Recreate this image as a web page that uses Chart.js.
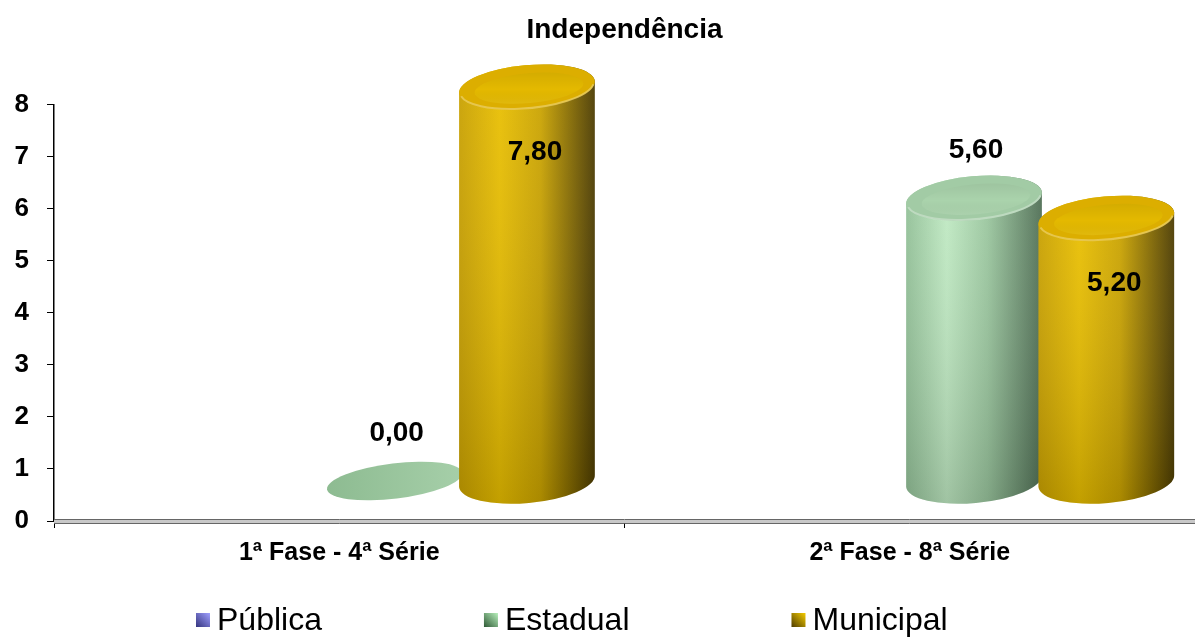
<!DOCTYPE html>
<html>
<head>
<meta charset="utf-8">
<script src="https://cdn.jsdelivr.net/npm/chart.js@4"></script>
<style>
    html, body { margin: 0; padding: 0; background: #fff; }
    #wrap { width: 1195px; height: 637px; }
</style>
</head>
<body>
<div id="wrap"><canvas id="barChart"></canvas></div>
<script>
const categories = ['1ª Fase - 4ª Série', '2ª Fase - 8ª Série'];
const seriesNames = ['Pública', 'Estadual', 'Municipal'];
const publica = [null, null];
const estadual = [0.00, 5.60];
const municipal = [7.80, 5.20];
const yTicks = [0, 1, 2, 3, 4, 5, 6, 7, 8];

const FONT = '"Liberation Sans", Arial, sans-serif';

// colour ramps for the cylinders: [left, highlight, mid, right edge]
const shades = {
    'Pública':   { body: ['#6a6ad0', '#9c9cff', '#7a7ae0', '#30307a'], top: '#8c8cf0', topIn: '#9898f8', key: ['#a0a0ff', '#34347e'] },
    'Estadual':  { body: ['#92c097', '#bfe9c2', '#9ac69e', '#4f6e54'], top: '#a2cba5', topIn: '#aad3ac', key: ['#b8f0bc', '#2f5a36'] },
    'Municipal': { body: ['#c8a000', '#e8be00', '#caa300', '#4a3a00'], top: '#dcae00', topIn: '#e4b900', key: ['#f5cc00', '#4e3c00'] }
};

const DEPTH_X = 51;       // back-plane shift of the columns
const DEPTH_SPREAD = 0.0155; // shift grows a little toward the right
const FLOOR_LIFT = 40;    // floor sits above the front axis line
const PERSP = 0.97;
const TILT = -0.09;

function fmt(v){
    return v.toFixed(2).replace('.', ',');
}

function drawCylinder(ctx, cx, baseY, topY, rx, ry, sh, flat){
    if(flat){
        const g = ctx.createLinearGradient(cx - rx, 0, cx + rx, 0);
        g.addColorStop(0, '#8dbb91');
        g.addColorStop(1, '#a6cfa9');
        ctx.beginPath();
        ctx.ellipse(cx, baseY, rx, ry * 0.8, TILT * 1.35, 0, Math.PI * 2);
        ctx.fillStyle = g;
        ctx.fill();
        return;
    }

    // side of the cylinder
    const g = ctx.createLinearGradient(cx - rx, 0, cx + rx, 0);
    g.addColorStop(0, sh.body[0]);
    g.addColorStop(0.3, sh.body[1]);
    g.addColorStop(0.6, sh.body[2]);
    g.addColorStop(1, sh.body[3]);

    ctx.beginPath();
    ctx.ellipse(cx, baseY, rx, ry, TILT, 0, Math.PI);
    ctx.ellipse(cx, topY, rx, ry, TILT, Math.PI, Math.PI * 2);
    ctx.closePath();
    ctx.fillStyle = g;
    ctx.fill();

    // darken toward the floor
    const v = ctx.createLinearGradient(0, topY, 0, baseY + ry);
    v.addColorStop(0, 'rgba(255,255,255,0.06)');
    v.addColorStop(1, 'rgba(0,0,0,0.16)');
    ctx.fillStyle = v;
    ctx.fill();

    // top cap
    ctx.beginPath();
    ctx.ellipse(cx, topY, rx, ry, TILT, 0, Math.PI * 2);
    ctx.fillStyle = sh.top;
    ctx.fill();

    const t = ctx.createLinearGradient(0, topY - ry, 0, topY + ry);
    t.addColorStop(0, 'rgba(0,0,0,0.10)');
    t.addColorStop(0.55, 'rgba(0,0,0,0)');
    t.addColorStop(1, 'rgba(255,255,255,0.10)');
    ctx.beginPath();
    ctx.ellipse(cx + 2, topY + 1, rx * 0.8, ry * 0.68, TILT, 0, Math.PI * 2);
    ctx.fillStyle = sh.topIn;
    ctx.fill();
    ctx.fillStyle = t;
    ctx.fill();

    // soft rim highlight on the front edge of the cap
    ctx.beginPath();
    ctx.ellipse(cx, topY, rx - 1, ry - 1, TILT, 0.15, Math.PI - 0.15);
    ctx.strokeStyle = 'rgba(255,255,255,0.3)';
    ctx.lineWidth = 2;
    ctx.stroke();
}

const cylinders = {
    id: 'cylinders',
    afterDatasetsDraw(chart){
        const ctx = chart.ctx;
        const y = chart.scales.y;
        const left = chart.chartArea.left;
        const zero = y.getPixelForValue(0);
        const baseY = zero - FLOOR_LIFT;

        ctx.save();
        chart.data.datasets.forEach((ds, i) => {
            const meta = chart.getDatasetMeta(i);
            const sh = shades[ds.label];
            meta.data.forEach((bar, j) => {
                const v = ds.data[j];
                if(v == null) return;
                const cx = bar.x + DEPTH_X + (bar.x - left) * DEPTH_SPREAD;
                const rx = bar.width / 2 + 3;
                const topY = baseY + (y.getPixelForValue(v) - zero) * PERSP;
                drawCylinder(ctx, cx, baseY, topY, rx, 22, sh, v === 0);

                // value label
                ctx.font = 'bold 28px ' + FONT;
                ctx.fillStyle = '#000';
                ctx.textAlign = 'center';
                ctx.textBaseline = 'middle';
                if(ds.label === 'Municipal'){
                    ctx.fillText(fmt(v), cx + 8, topY + 65);
                } else {
                    ctx.fillText(fmt(v), cx + 2, topY - 48);
                }
            });
        });
        ctx.restore();
    }
};

// floor edge along the category axis, drawn as a double line
const floorEdge = {
    id: 'floorEdge',
    afterDraw(chart){
        const ctx = chart.ctx;
        const a = chart.chartArea;
        ctx.save();
        ctx.fillStyle = '#c8c8c8';
        ctx.fillRect(a.left, a.bottom - 1, a.right - a.left, 3);
        ctx.strokeStyle = '#666';
        ctx.lineWidth = 1;
        ctx.beginPath();
        ctx.moveTo(a.left, a.bottom - 1.5);
        ctx.lineTo(a.right, a.bottom - 1.5);
        ctx.moveTo(a.left, a.bottom + 2.5);
        ctx.lineTo(a.right, a.bottom + 2.5);
        ctx.stroke();
        ctx.restore();
    }
};

// legend spread across the bottom
const bottomLegend = {
    id: 'bottomLegend',
    afterDraw(chart){
        const ctx = chart.ctx;
        const yc = 620;
        let x = 196;
        ctx.save();
        ctx.font = '32px ' + FONT;
        ctx.textBaseline = 'middle';
        ctx.textAlign = 'left';
        chart.data.datasets.forEach(ds => {
            const sh = shades[ds.label];
            const g = ctx.createLinearGradient(x + 14, yc - 7, x, yc + 7);
            g.addColorStop(0, sh.key[0]);
            g.addColorStop(1, sh.key[1]);
            ctx.fillStyle = g;
            ctx.fillRect(x, yc - 7, 14, 14);
            ctx.fillStyle = '#000';
            ctx.fillText(ds.label, x + 21, yc + 1);
            x += 21 + ctx.measureText(ds.label).width + 162;
        });
        ctx.restore();
    }
};

document.addEventListener("DOMContentLoaded", function () {

    initChart();

});

function initChart(){

    const bar = document.getElementById("barChart");
    const clear = 'rgba(0,0,0,0)';

    new Chart(bar, {
        type: 'bar',
        data: {
            labels: categories,
            datasets: [
                { label: seriesNames[0], data: publica, backgroundColor: clear },
                { label: seriesNames[1], data: estadual, backgroundColor: clear },
                { label: seriesNames[2], data: municipal, backgroundColor: clear }
            ]
        },
        options: {
            responsive: true,
            maintainAspectRatio: false,
            animation: false,
            categoryPercentage: 0.685,
            barPercentage: 1,
            layout: { padding: { top: 0, left: 0, right: 0, bottom: 60 } },
            plugins: {
                legend: { display: false },
                tooltip: { enabled: false },
                title: {
                    display: true,
                    text: 'Independência',
                    fullSize: false,
                    color: '#000',
                    font: { family: FONT, size: 28, weight: 'bold' },
                    padding: { top: 13, bottom: 58 }
                }
            },
            scales: {
                x: {
                    grid: { display: true, offset: true, drawOnChartArea: false, drawTicks: true, tickLength: 7, color: '#000' },
                    border: { display: false },
                    ticks: { color: '#000', padding: 10, font: { family: FONT, size: 25, weight: 'bold' } },
                    afterFit(s){ s.height = 56; }
                },
                y: {
                    min: 0,
                    max: 8,
                    afterBuildTicks(s){ s.ticks = yTicks.map(v => ({ value: v })); },
                    grid: { display: true, drawOnChartArea: false, drawTicks: true, tickLength: 7, color: '#000' },
                    border: { display: true, color: '#000', width: 1.5 },
                    ticks: { color: '#000', padding: 18, font: { family: FONT, size: 26, weight: 'bold' } },
                    afterFit(s){ s.width = 54; }
                }
            }
        },
        plugins: [cylinders, floorEdge, bottomLegend]
    });
}
</script>
</body>
</html>
